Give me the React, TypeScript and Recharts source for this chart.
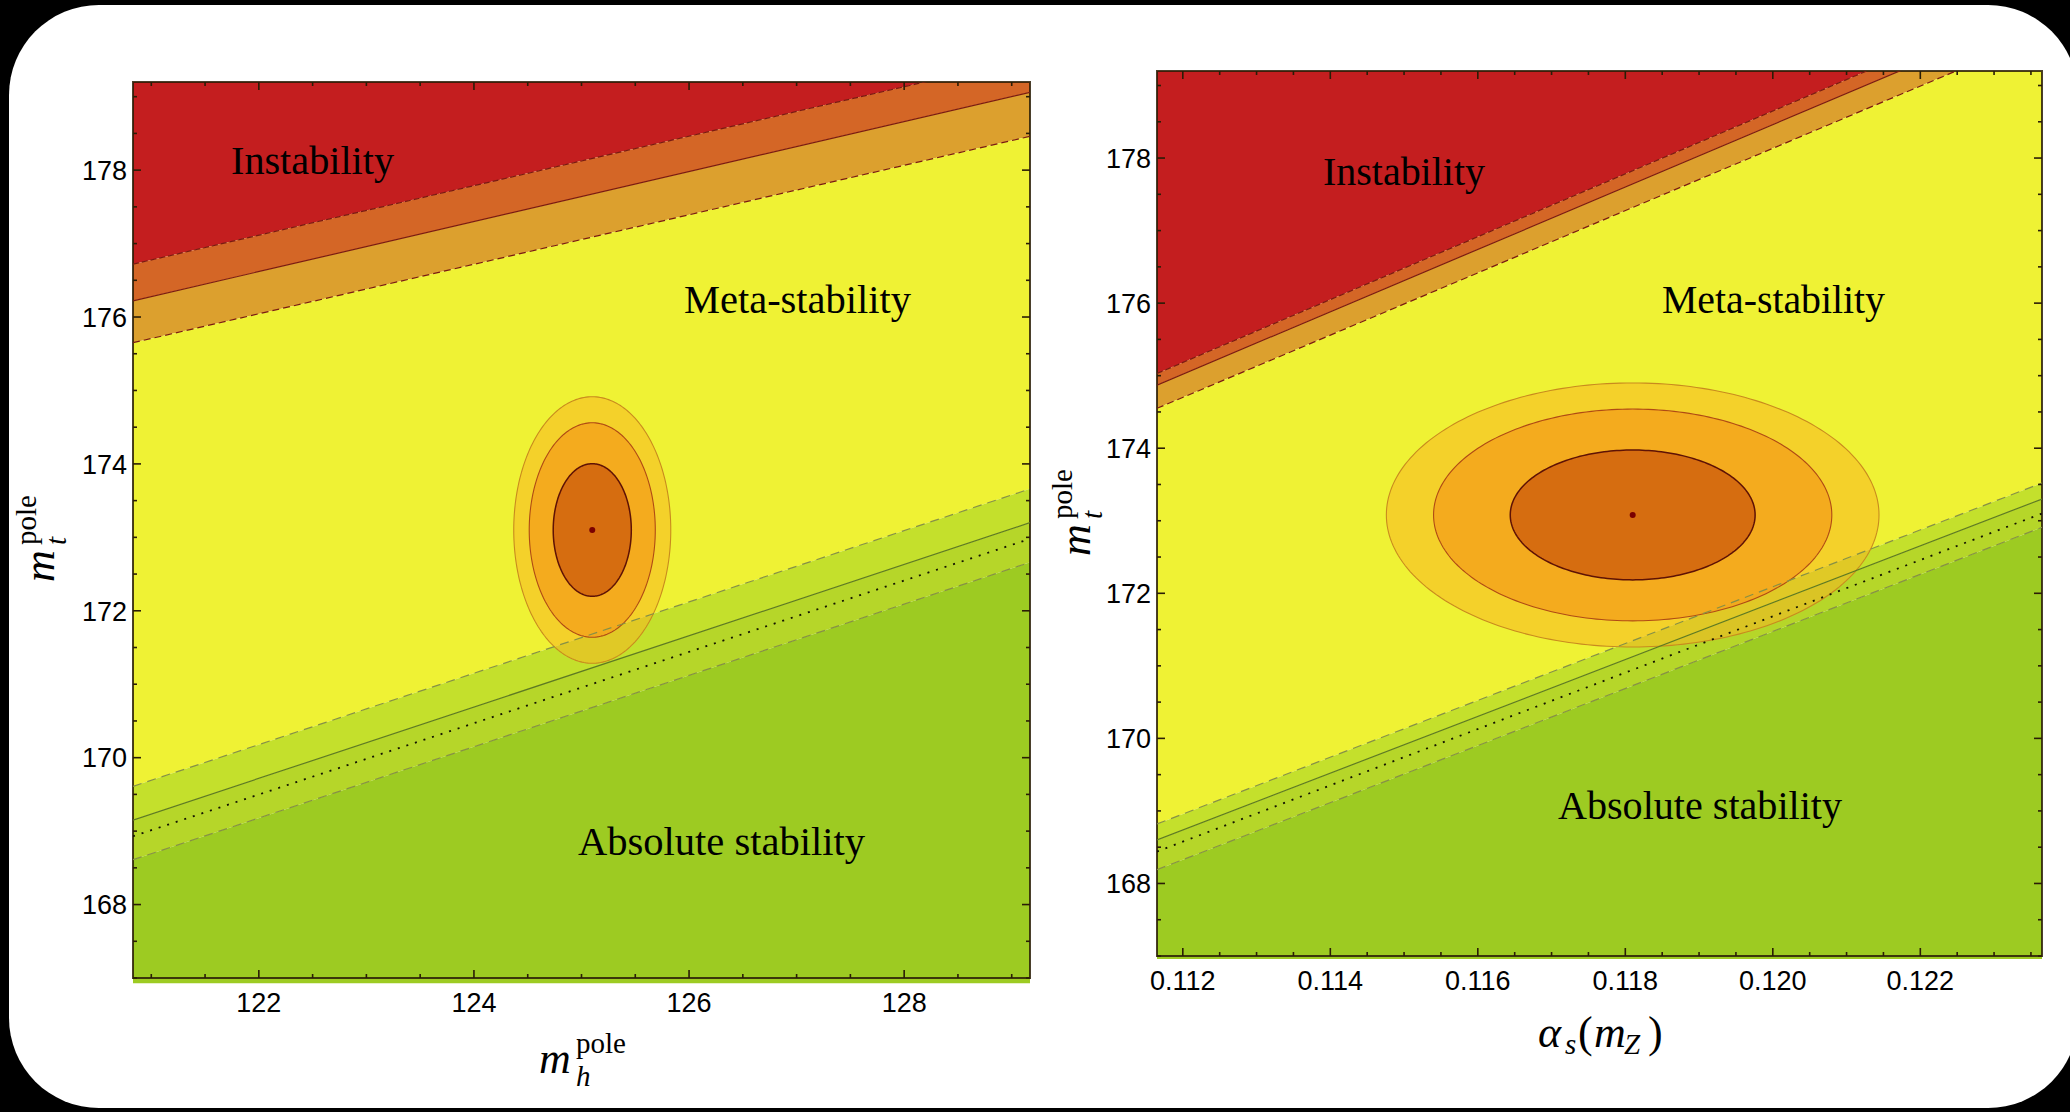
import React from "react";
import { Area, ComposedChart, Line, ReferenceArea, Scatter, XAxis, YAxis } from "recharts";

// ---- left panel: m_h^pole vs m_t^pole ----
const mhDomain = [120.83, 129.17];
const mhMajorTicks = [122, 124, 126, 128];
const mtDomain = [167.0, 179.2];
const mtMajorTicks = [168, 170, 172, 174, 176, 178];

// boundaries: m_t at the left and right edge of the panel
const mhInstability = [176.72, 179.53];
const mhMetaCentral = [176.22, 179.06];
const mhMetaLow = [175.65, 178.46];
const mhStabHigh = [169.61, 173.66];
const mhStabCentral = [169.15, 173.2];
const mhStabDotted = [168.93, 172.98];
const mhStabLow = [168.61, 172.66];

const mhBestFit = [125.1, 173.1];
const mhEllipseRx = [0.73, 0.586, 0.363]; // 99%, 95%, 68%
const mhEllipseRy = [1.815, 1.46, 0.903];

// ---- right panel: alpha_s(m_Z) vs m_t^pole ----
const asDomain = [0.11165, 0.12365];
const asMajorTicks = [0.112, 0.114, 0.116, 0.118, 0.12, 0.122];

const asInstability = [175.03, 180.23];
const asMetaCentral = [174.87, 180.03];
const asMetaLow = [174.55, 179.7];
const asStabHigh = [168.82, 173.52];
const asStabCentral = [168.6, 173.3];
const asStabDotted = [168.44, 173.1];
const asStabLow = [168.19, 172.91];

const asBestFit = [0.1181, 173.08];
const asEllipseRx = [0.00334, 0.0027, 0.00166];
const asEllipseRy = [1.82, 1.46, 0.895];

const COLORS = {
  red: "#c41e1f",
  orange: "#d46626",
  amber: "#dca02e",
  yellow: "#eff234",
  lime: "#c4e02c",
  lime2: "#b6d629",
  green: "#9dcb22",
};
const ELLIPSE_FILL = ["#f8b722", "#f4a51d", "#d3670f"];
const ELLIPSE_OPACITY = [0.55, 0.88, 0.92];
const ELLIPSE_STROKE = ["#c98a1e", "#b04a14", "#5e1205"];
const TICK = "#2a1d06";

const band = (xs: number[], lo: number[], hi: number[]) =>
  xs.map((x, i) => ({ x, range: [lo[i], hi[i]] }));
const line = (xs: number[], ys: number[]) => xs.map((x, i) => ({ x, y: ys[i] }));
const ellipse = (c: number[], rx: number, ry: number) => {
  const pts: { x: number; range: number[] }[] = [];
  for (let k = 0; k <= 120; k++) {
    const t = (Math.PI * k) / 120;
    pts.push({ x: c[0] + rx * Math.cos(t), range: [c[1] - ry * Math.sin(t), c[1] + ry * Math.sin(t)] });
  }
  return pts;
};
const stepTicks = (from: number, to: number, step: number) => {
  const out: number[] = [];
  for (let v = from; v <= to + step / 10; v += step) out.push(Math.round(v * 1e6) / 1e6);
  return out;
};
const isMajor = (majors: number[], v: number) => majors.some((m) => Math.abs(m - v) < 1e-7);

const makeXTick = (majors: number[], fmt: (v: number) => string, plotH: number) => (props: any) => {
  const { x, y, payload } = props;
  const major = isMajor(majors, payload.value);
  const len = major ? 8 : 4;
  return (
    <g>
      <line x1={x} x2={x} y1={y} y2={y - len} stroke={TICK} strokeWidth={1.6} />
      <line x1={x} x2={x} y1={y - plotH} y2={y - plotH + len} stroke={TICK} strokeWidth={1.6} />
      {major && (
        <text x={x} y={y + 34} textAnchor="middle" fontFamily="Liberation Sans" fontSize={27} fill="#000">
          {fmt(payload.value)}
        </text>
      )}
    </g>
  );
};

const makeYTick = (majors: number[], plotW: number) => (props: any) => {
  const { x, y, payload } = props;
  const major = isMajor(majors, payload.value);
  const len = major ? 8 : 4;
  return (
    <g>
      <line x1={x} x2={x + len} y1={y} y2={y} stroke={TICK} strokeWidth={1.6} />
      <line x1={x + plotW} x2={x + plotW - len} y1={y} y2={y} stroke={TICK} strokeWidth={1.6} />
      {major && (
        <text x={x - 6} y={y} dy="0.36em" textAnchor="end" fontFamily="Liberation Sans" fontSize={27} fill="#000">
          {payload.value}
        </text>
      )}
    </g>
  );
};

type PanelProps = {
  width: number;
  height: number;
  margin: { top: number; right: number; bottom: number; left: number };
  xDomain: number[];
  xMajor: number[];
  xMinorStep: number;
  xFmt: (v: number) => string;
  lines: number[][];
  fit: number[];
  rx: number[];
  ry: number[];
  stripBottom: number;
};

function Panel({ width, height, margin, xDomain, xMajor, xMinorStep, xFmt, lines, fit, rx, ry, stripBottom }: PanelProps) {
  const [inst, metaC, metaL, stabH, stabC, stabD, stabL] = lines;
  const plotW = width - margin.left - margin.right - 70;
  const plotH = height - margin.top - margin.bottom - 40;
  const top = [181, 181];
  const bottom = [165, 165];
  const xTicks = stepTicks(xMajor[0] - Math.floor((xMajor[0] - xDomain[0]) / xMinorStep) * xMinorStep, xDomain[1], xMinorStep);
  const yTicks = stepTicks(167, 179, 0.5);
  const regions: [number[], number[], string][] = [
    [inst, top, COLORS.red],
    [metaC, inst, COLORS.orange],
    [metaL, metaC, COLORS.amber],
    [stabH, metaL, COLORS.yellow],
    [stabC, stabH, COLORS.lime],
    [stabL, stabC, COLORS.lime2],
    [bottom, stabL, COLORS.green],
  ];
  return (
    <ComposedChart width={width} height={height} margin={margin}>
      {regions.map(([lo, hi, c], i) => (
        <Area
          key={"r" + i}
          data={band(xDomain, lo, hi)}
          dataKey="range"
          type="linear"
          stroke="none"
          fill={c}
          fillOpacity={1}
          dot={false}
          activeDot={false}
          isAnimationActive={false}
        />
      ))}
      <Line data={line(xDomain, inst)} dataKey="y" stroke="#7a1a10" strokeWidth={1.2} strokeDasharray="6 3" dot={false} activeDot={false} isAnimationActive={false} />
      <Line data={line(xDomain, metaC)} dataKey="y" stroke="#7a1a10" strokeWidth={1.2} dot={false} activeDot={false} isAnimationActive={false} />
      <Line data={line(xDomain, metaL)} dataKey="y" stroke="#7a1a10" strokeWidth={1.2} strokeDasharray="7 4" dot={false} activeDot={false} isAnimationActive={false} />
      <Line data={line(xDomain, stabH)} dataKey="y" stroke="#869045" strokeWidth={1.2} strokeDasharray="9 6" dot={false} activeDot={false} isAnimationActive={false} />
      <Line data={line(xDomain, stabC)} dataKey="y" stroke="#5e7a22" strokeWidth={1.2} dot={false} activeDot={false} isAnimationActive={false} />
      <Line data={line(xDomain, stabD)} dataKey="y" stroke="#141400" strokeWidth={1.8} strokeDasharray="2 7" dot={false} activeDot={false} isAnimationActive={false} />
      <Line data={line(xDomain, stabL)} dataKey="y" stroke="#869045" strokeWidth={1.2} strokeDasharray="9 6" dot={false} activeDot={false} isAnimationActive={false} />
      {rx.map((r, i) => (
        <Area
          key={"e" + i}
          data={ellipse(fit, r, ry[i])}
          dataKey="range"
          type="linear"
          stroke={ELLIPSE_STROKE[i]}
          strokeWidth={i === 2 ? 1.5 : 1.1}
          fill={ELLIPSE_FILL[i]}
          fillOpacity={ELLIPSE_OPACITY[i]}
          dot={false}
          activeDot={false}
          isAnimationActive={false}
        />
      ))}
      <Scatter
        data={[{ x: fit[0], y: fit[1] }]}
        dataKey="y"
        fill="#7a0000"
        shape={(p: any) => <circle cx={p.cx} cy={p.cy} r={3} fill="#7a0000" />}
        isAnimationActive={false}
      />
      {/* thin strip of the stable region peeking out under the frame */}
      <ReferenceArea
        x1={xDomain[0]}
        x2={xDomain[1]}
        y1={stripBottom}
        y2={mtDomain[0]}
        fill={COLORS.green}
        fillOpacity={1}
        stroke="none"
        ifOverflow="visible"
      />
      <ReferenceArea
        x1={xDomain[0]}
        x2={xDomain[1]}
        y1={mtDomain[0]}
        y2={mtDomain[1]}
        fill="none"
        fillOpacity={0}
        stroke={TICK}
        strokeOpacity={0.85}
        strokeWidth={2}
        ifOverflow="visible"
      />
      <XAxis
        type="number"
        dataKey="x"
        domain={xDomain}
        allowDataOverflow
        ticks={xTicks}
        interval={0}
        tickSize={0}
        tickMargin={0}
        axisLine={false}
        tickLine={false}
        height={40}
        tick={makeXTick(xMajor, xFmt, plotH)}
      />
      <YAxis
        type="number"
        domain={mtDomain}
        allowDataOverflow
        ticks={yTicks}
        interval={0}
        tickSize={0}
        tickMargin={0}
        axisLine={false}
        tickLine={false}
        width={70}
        tick={makeYTick(mtMajorTicks, plotW)}
      />
    </ComposedChart>
  );
}

const serif = "'Liberation Serif', 'DejaVu Serif', serif";

function Labels() {
  const region = { fontFamily: serif, fontSize: 40, fill: "#000" };
  const mathBig = { fontFamily: serif, fontSize: 44, fontStyle: "italic" as const, fill: "#000" };
  const mathSmall = { fontFamily: serif, fontSize: 29, fill: "#000" };
  return (
    <svg width={2070} height={1112} style={{ position: "absolute", left: 0, top: 0, pointerEvents: "none" }}>
      <text x={231} y={174} textLength={163} lengthAdjust="spacingAndGlyphs" {...region}>Instability</text>
      <text x={684} y={313} textLength={227} lengthAdjust="spacingAndGlyphs" {...region}>Meta-stability</text>
      <text x={578} y={855} textLength={287} lengthAdjust="spacingAndGlyphs" {...region}>Absolute stability</text>
      <text x={1323} y={185} textLength={162} lengthAdjust="spacingAndGlyphs" {...region}>Instability</text>
      <text x={1662} y={313} textLength={223} lengthAdjust="spacingAndGlyphs" {...region}>Meta-stability</text>
      <text x={1558} y={819} textLength={284} lengthAdjust="spacingAndGlyphs" {...region}>Absolute stability</text>

      {/* m_h^pole */}
      <text x={539} y={1073} {...mathBig}>m</text>
      <text x={576} y={1053} {...mathSmall}>pole</text>
      <text x={576} y={1086} {...mathSmall} fontStyle="italic">h</text>

      {/* alpha_s(m_Z) */}
      <text x={1538} y={1047} {...mathBig}>α</text>
      <text x={1565} y={1054} {...mathSmall} fontStyle="italic">s</text>
      <text x={1578} y={1047} {...mathBig} fontStyle="normal">(</text>
      <text x={1594} y={1047} {...mathBig}>m</text>
      <text x={1624} y={1054} {...mathSmall} fontStyle="italic">Z</text>
      <text x={1648} y={1047} {...mathBig} fontStyle="normal">)</text>

      {/* m_t^pole, left and right */}
      {[
        [54, 582],
        [1090, 556],
      ].map(([cx, cy]) => (
        <g key={cx} transform={`rotate(-90 ${cx} ${cy})`}>
          <text x={cx} y={cy} {...mathBig}>m</text>
          <text x={cx + 37} y={cy - 18} {...mathSmall}>pole</text>
          <text x={cx + 37} y={cy + 12} {...mathSmall} fontStyle="italic">t</text>
        </g>
      ))}
    </svg>
  );
}

export default function App() {
  return (
    <div style={{ position: "relative", width: 2070, height: 1112, background: "#000", overflow: "hidden" }}>
      <style>{"body{margin:0}"}</style>
      <div
        style={{
          position: "absolute",
          left: 9,
          top: 5,
          width: 2069,
          height: 1103,
          borderRadius: 90,
          background: "#fff",
        }}
      />
      <div style={{ position: "absolute", left: 0, top: 0 }}>
        <Panel
          width={1060}
          height={1112}
          margin={{ top: 82, right: 30, bottom: 94, left: 63 }}
          xDomain={mhDomain}
          xMajor={mhMajorTicks}
          xMinorStep={0.5}
          xFmt={(v) => String(v)}
          lines={[mhInstability, mhMetaCentral, mhMetaLow, mhStabHigh, mhStabCentral, mhStabDotted, mhStabLow]}
          fit={mhBestFit}
          rx={mhEllipseRx}
          ry={mhEllipseRy}
          stripBottom={166.93}
        />
      </div>
      <div style={{ position: "absolute", left: 1060, top: 0 }}>
        <Panel
          width={1010}
          height={1112}
          margin={{ top: 71, right: 28, bottom: 116, left: 27 }}
          xDomain={asDomain}
          xMajor={asMajorTicks}
          xMinorStep={0.0005}
          xFmt={(v) => v.toFixed(3)}
          lines={[asInstability, asMetaCentral, asMetaLow, asStabHigh, asStabCentral, asStabDotted, asStabLow]}
          fit={asBestFit}
          rx={asEllipseRx}
          ry={asEllipseRy}
          stripBottom={166.96}
        />
      </div>
      <Labels />
    </div>
  );
}
